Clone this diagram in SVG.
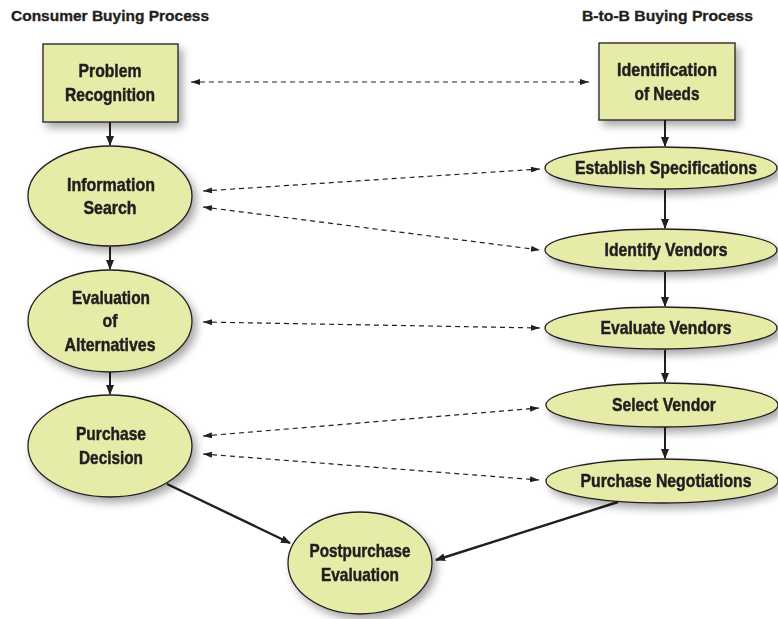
<svg xmlns="http://www.w3.org/2000/svg" width="778" height="619" viewBox="0 0 778 619">
  <style>
    .node { fill: #e7eba8; stroke: #231f20; stroke-width: 1.3; }
    .lbl { font-family: "Liberation Sans", Arial, sans-serif; font-weight: bold; font-size: 19px; fill: #231f20; stroke: #231f20; stroke-width: 0.5; text-anchor: middle; }
    .title { font-family: "Liberation Sans", Arial, sans-serif; font-weight: bold; font-size: 15.5px; fill: #231f20; stroke: #231f20; stroke-width: 0.35; }
    .flow { stroke: #231f20; stroke-width: 2; fill: none; marker-end: url(#solid); }
    .diag { stroke: #231f20; stroke-width: 2.4; fill: none; marker-end: url(#solid); }
    .link { stroke: #231f20; stroke-width: 1.2; fill: none; stroke-dasharray: 5 4; marker-start: url(#dashS); marker-end: url(#dashE); }
  </style>
  <defs>
    <filter id="shadow" x="-20%" y="-20%" width="150%" height="160%">
      <feGaussianBlur in="SourceAlpha" stdDeviation="4"/>
      <feOffset dx="4" dy="5" result="b"/>
      <feComponentTransfer><feFuncA type="linear" slope="0.35"/></feComponentTransfer>
      <feMerge><feMergeNode/><feMergeNode in="SourceGraphic"/></feMerge>
    </filter>
    <marker id="solid" viewBox="0 0 10 8" refX="9" refY="4" markerWidth="10" markerHeight="8" markerUnits="userSpaceOnUse" orient="auto">
      <path d="M0,0 L10,4 L0,8 Z" fill="#231f20"/>
    </marker>
    <marker id="dashE" viewBox="0 0 9 6" refX="9" refY="3" markerWidth="9" markerHeight="6" markerUnits="userSpaceOnUse" orient="auto">
      <path d="M0,0 L9,3 L0,6 Z" fill="#231f20"/>
    </marker>
    <marker id="dashS" viewBox="0 0 9 6" refX="0" refY="3" markerWidth="9" markerHeight="6" markerUnits="userSpaceOnUse" orient="auto">
      <path d="M9,0 L0,3 L9,6 Z" fill="#231f20"/>
    </marker>
  </defs>

  <rect width="778" height="619" fill="#ffffff"/>

  <text class="title" x="11" y="21" textLength="198" lengthAdjust="spacingAndGlyphs">Consumer Buying Process</text>
  <text class="title" x="582" y="21" textLength="171" lengthAdjust="spacingAndGlyphs">B-to-B Buying Process</text>

  <!-- connectors -->
  <g id="connectors">
    <!-- consumer flow -->
    <line class="flow" x1="110" y1="122" x2="110" y2="145"/>
    <line class="flow" x1="110" y1="247" x2="110" y2="269"/>
    <line class="flow" x1="110" y1="372" x2="110" y2="394"/>
    <line class="diag" x1="167" y1="484" x2="290" y2="543"/>
    <!-- business flow -->
    <line class="flow" x1="665" y1="120" x2="665" y2="146"/>
    <line class="flow" x1="665" y1="190" x2="665" y2="228"/>
    <line class="flow" x1="665" y1="272" x2="665" y2="306"/>
    <line class="flow" x1="665" y1="350" x2="665" y2="382"/>
    <line class="flow" x1="665" y1="427" x2="665" y2="458"/>
    <line class="diag" x1="618" y1="502" x2="436" y2="560"/>
    <!-- stage correspondences -->
    <line class="link" x1="191" y1="82" x2="589" y2="82"/>
    <line class="link" x1="203" y1="191" x2="540" y2="169"/>
    <line class="link" x1="203" y1="207" x2="540" y2="250"/>
    <line class="link" x1="203" y1="322" x2="540" y2="328"/>
    <line class="link" x1="203" y1="436" x2="539" y2="408"/>
    <line class="link" x1="203" y1="454" x2="539" y2="480"/>
  </g>

  <g id="problem-recognition" filter="url(#shadow)">
    <rect class="node" x="43" y="44" width="135" height="78"/>
    <text class="lbl" x="110" y="77" textLength="63" lengthAdjust="spacingAndGlyphs">Problem</text>
    <text class="lbl" x="110" y="101" textLength="90" lengthAdjust="spacingAndGlyphs">Recognition</text>
  </g>
  <g id="information-search" filter="url(#shadow)">
    <ellipse class="node" cx="110" cy="196" rx="82" ry="50"/>
    <text class="lbl" x="111" y="191" textLength="88" lengthAdjust="spacingAndGlyphs">Information</text>
    <text class="lbl" x="110" y="214" textLength="53" lengthAdjust="spacingAndGlyphs">Search</text>
  </g>
  <g id="evaluation-alternatives" filter="url(#shadow)">
    <ellipse class="node" cx="110" cy="321" rx="82" ry="51"/>
    <text class="lbl" x="111" y="304" textLength="78" lengthAdjust="spacingAndGlyphs">Evaluation</text>
    <text class="lbl" x="110" y="327" textLength="15" lengthAdjust="spacingAndGlyphs">of</text>
    <text class="lbl" x="110" y="351" textLength="91" lengthAdjust="spacingAndGlyphs">Alternatives</text>
  </g>
  <g id="purchase-decision" filter="url(#shadow)">
    <ellipse class="node" cx="110" cy="446" rx="82" ry="51"/>
    <text class="lbl" x="111" y="440" textLength="70" lengthAdjust="spacingAndGlyphs">Purchase</text>
    <text class="lbl" x="111" y="464" textLength="64" lengthAdjust="spacingAndGlyphs">Decision</text>
  </g>
  <g id="postpurchase-evaluation" filter="url(#shadow)">
    <ellipse class="node" cx="360" cy="563" rx="72" ry="51"/>
    <text class="lbl" x="360" y="557" textLength="101" lengthAdjust="spacingAndGlyphs">Postpurchase</text>
    <text class="lbl" x="360" y="581" textLength="78" lengthAdjust="spacingAndGlyphs">Evaluation</text>
  </g>

  <g id="identification-needs" filter="url(#shadow)">
    <rect class="node" x="599" y="43" width="136" height="77"/>
    <text class="lbl" x="667" y="76" textLength="100" lengthAdjust="spacingAndGlyphs">Identification</text>
    <text class="lbl" x="667" y="100" textLength="65" lengthAdjust="spacingAndGlyphs">of Needs</text>
  </g>
  <g id="establish-specifications" filter="url(#shadow)">
    <ellipse class="node" cx="661" cy="168" rx="116" ry="21"/>
    <text class="lbl" x="666" y="174" textLength="182" lengthAdjust="spacingAndGlyphs">Establish Specifications</text>
  </g>
  <g id="identify-vendors" filter="url(#shadow)">
    <ellipse class="node" cx="661" cy="250" rx="116" ry="21"/>
    <text class="lbl" x="666" y="256" textLength="123" lengthAdjust="spacingAndGlyphs">Identify Vendors</text>
  </g>
  <g id="evaluate-vendors" filter="url(#shadow)">
    <ellipse class="node" cx="661" cy="328" rx="116" ry="21"/>
    <text class="lbl" x="666" y="334" textLength="131" lengthAdjust="spacingAndGlyphs">Evaluate Vendors</text>
  </g>
  <g id="select-vendor" filter="url(#shadow)">
    <ellipse class="node" cx="662" cy="405" rx="116" ry="22"/>
    <text class="lbl" x="664" y="411" textLength="104" lengthAdjust="spacingAndGlyphs">Select Vendor</text>
  </g>
  <g id="purchase-negotiations" filter="url(#shadow)">
    <ellipse class="node" cx="662" cy="481" rx="116" ry="22"/>
    <text class="lbl" x="666" y="487" textLength="171" lengthAdjust="spacingAndGlyphs">Purchase Negotiations</text>
  </g>
</svg>
